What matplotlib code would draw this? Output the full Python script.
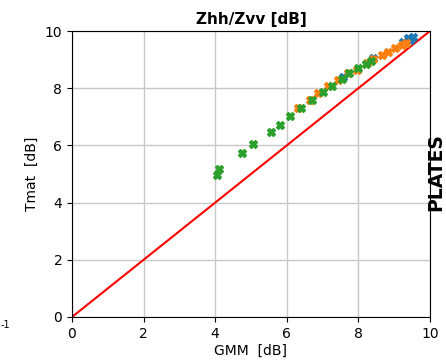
import matplotlib
matplotlib.use("Agg")
import matplotlib.pyplot as plt

# GMM vs T-matrix differential reflectivity for plates, three sets
gmm_a = [7.57, 8.41, 9.25, 9.39, 9.53, 9.45]
tmat_a = [8.39, 9.06, 9.62, 9.76, 9.79, 9.70]

gmm_b = [6.30, 6.65, 6.87, 7.15, 7.43, 7.71, 7.96, 8.24, 8.41, 8.66, 8.83, 9.02, 9.22, 9.33]
tmat_b = [7.30, 7.59, 7.83, 8.08, 8.29, 8.53, 8.64, 8.88, 9.02, 9.16, 9.27, 9.41, 9.51, 9.58]

gmm_c = [4.05, 4.10, 4.75, 5.05, 5.55, 5.80, 6.10, 6.40, 6.70, 7.00, 7.25, 7.55, 7.75, 8.00, 8.20, 8.35]
tmat_c = [4.98, 5.18, 5.75, 6.05, 6.47, 6.72, 7.04, 7.32, 7.60, 7.87, 8.08, 8.33, 8.52, 8.70, 8.86, 8.95]

one_to_one = [0, 10]

fig = plt.figure(figsize=(4.46, 3.61), dpi=100)
ax = fig.add_axes([0.1614, 0.1219, 0.8027, 0.7922])

ax.plot(one_to_one, one_to_one, color="red", lw=1.5, zorder=2)
ax.scatter(gmm_a, tmat_a, marker="X", s=32, color="C0", zorder=3, clip_on=False)
ax.scatter(gmm_b, tmat_b, marker="X", s=32, color="C1", zorder=4)
ax.scatter(gmm_c, tmat_c, marker="X", s=32, color="C2", zorder=5)

ax.set_xlim(0, 10)
ax.set_ylim(0, 10)
ax.set_xticks([0, 2, 4, 6, 8, 10])
ax.set_yticks([0, 2, 4, 6, 8, 10])
ax.grid(True, color="#c8c8c8", lw=1.0)
ax.set_axisbelow(True)
ax.tick_params(labelsize=10)
ax.set_xlabel("GMM  [dB]", fontsize=10, labelpad=2)
ax.set_ylabel("Tmat  [dB]", fontsize=10)
ax.set_title("Zhh/Zvv [dB]", fontsize=11, fontweight="bold", pad=5)

fig.text(0.978, 0.524, "PLATES", rotation=90, fontsize=13.5, fontweight="bold",
         ha="center", va="center")
fig.text(0.002, 0.10, "-1", fontsize=7, ha="left", va="center")

fig.savefig("out.png", dpi=100)
